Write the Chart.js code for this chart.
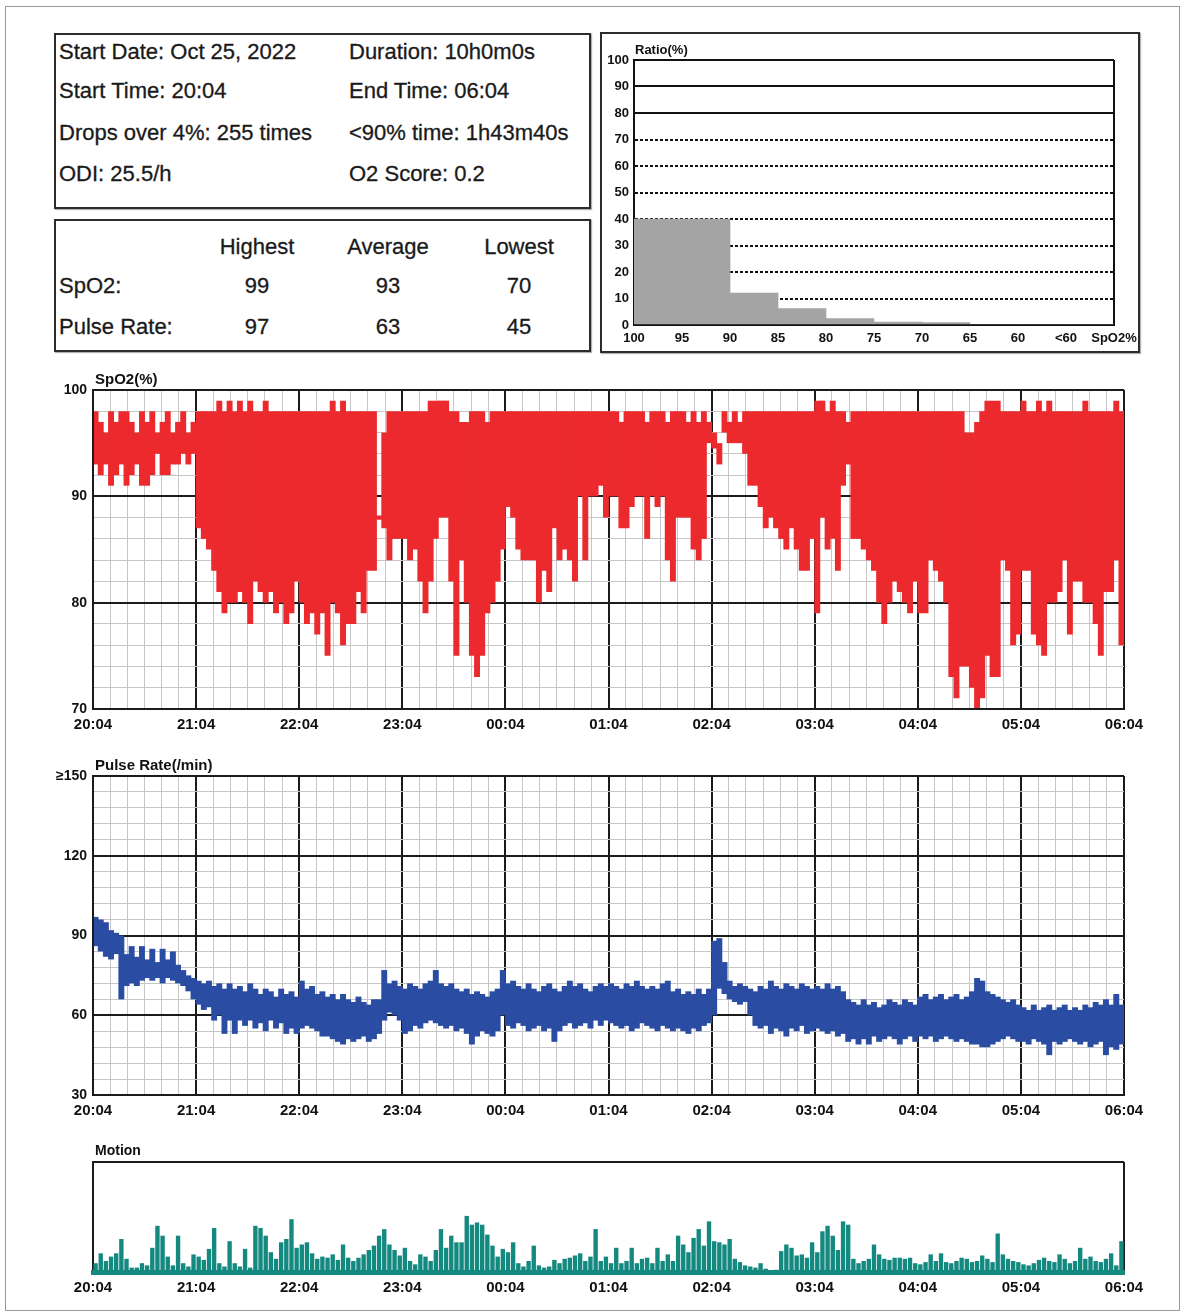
<!DOCTYPE html>
<html>

<head>
    <meta charset="utf-8">
    <title>Relatório de oximetria</title>
    <style>
        body {
            margin: 0;
            background: #fff;
            font-family: "Liberation Sans", Arial, sans-serif;
            color: #1a1a1a;
        }

        .page {
            position: relative;
            width: 1186px;
            height: 1315px;
            overflow: hidden;
        }

        .frame {
            position: absolute;
            left: 5px;
            top: 6px;
            width: 1175px;
            height: 1305px;
            border: 1px solid #9a9a9a;
            box-sizing: border-box;
        }

        .box {
            position: absolute;
            border: 2px solid #2c2c2c;
            box-sizing: border-box;
            box-shadow: 1px 1px 1px rgba(0, 0, 0, .3);
        }

        .t {
            position: absolute;
            font-size: 22px;
            line-height: 22px;
            white-space: nowrap;
            -webkit-text-stroke: 0.3px #1a1a1a;
        }

        .c {
            transform: translateX(-50%);
        }

        canvas {
            position: absolute;
            left: 0;
        }
    </style>
</head>

<body>
    <div class="page">
        <div class="frame"></div>

        <div class="box" style="left:54px;top:33px;width:537px;height:176px"></div>
        <div class="t" style="left:59px;top:41px">Start Date: Oct 25, 2022</div>
        <div class="t" style="left:349px;top:41px">Duration: 10h0m0s</div>
        <div class="t" style="left:59px;top:80px">Start Time: 20:04</div>
        <div class="t" style="left:349px;top:80px">End Time: 06:04</div>
        <div class="t" style="left:59px;top:122px">Drops over 4%: 255 times</div>
        <div class="t" style="left:349px;top:122px">&lt;90% time: 1h43m40s</div>
        <div class="t" style="left:59px;top:163px">ODI: 25.5/h</div>
        <div class="t" style="left:349px;top:163px">O2 Score: 0.2</div>

        <div class="box" style="left:54px;top:219px;width:537px;height:133px"></div>
        <div class="t c" style="left:257px;top:236px">Highest</div>
        <div class="t c" style="left:388px;top:236px">Average</div>
        <div class="t c" style="left:519px;top:236px">Lowest</div>
        <div class="t" style="left:59px;top:275px">SpO2:</div>
        <div class="t c" style="left:257px;top:275px">99</div>
        <div class="t c" style="left:388px;top:275px">93</div>
        <div class="t c" style="left:519px;top:275px">70</div>
        <div class="t" style="left:59px;top:316px">Pulse Rate:</div>
        <div class="t c" style="left:257px;top:316px">97</div>
        <div class="t c" style="left:388px;top:316px">63</div>
        <div class="t c" style="left:519px;top:316px">45</div>

        <div class="box" style="left:600px;top:32px;width:540px;height:321px"></div>

        <canvas id="ratioChart" width="596" height="317" style="left:590px;top:30px"></canvas>
        <canvas id="spo2Chart" width="1186" height="374" style="top:360px"></canvas>
        <canvas id="pulseChart" width="1186" height="374" style="top:746px"></canvas>
        <canvas id="motionChart" width="1186" height="168" style="top:1132px"></canvas>
    </div>

    <script src="https://cdn.jsdelivr.net/npm/chart.js"></script>
    <script>
        // valores, um valor a cada 3 minutos (200 por noite)
        var timeLabels = ['20:04', '21:04', '22:04', '23:04', '00:04', '01:04', '02:04', '03:04', '04:04', '05:04', '06:04'];
        var binMinutes = 3;

        var spo2High = [
            98, 97, 96, 98, 97, 98, 98, 97, 96, 98, 97, 98, 96, 97, 98, 96, 97, 98, 96, 97,
            98, 98, 98, 98, 99, 98, 99, 98, 99, 98, 99, 98, 98, 99, 98, 98, 98, 98, 98, 98,
            98, 98, 98, 98, 98, 98, 99, 98, 99, 98, 98, 98, 98, 98, 98, 88.2, 96, 98, 98, 98,
            98, 98, 98, 98, 98, 99, 99, 99, 99, 98, 98, 97, 97, 98, 98, 98, 97, 98, 98, 98,
            98, 98, 98, 98, 98, 98, 98, 98, 98, 98, 98, 98, 98, 98, 98, 98, 98, 98, 98, 98,
            98, 98, 97, 98, 98, 98, 98, 97, 98, 98, 98, 97, 98, 98, 98, 97, 98, 97, 98, 97,
            96, 95, 98, 97, 98, 97, 98, 98, 98, 98, 98, 98, 98, 98, 98, 98, 98, 98, 98, 98,
            99, 99, 98, 99, 98, 98, 97, 98, 98, 98, 98, 98, 98, 98, 98, 98, 98, 98, 98, 98,
            98, 98, 98, 98, 98, 98, 98, 98, 98, 96, 96, 97, 98, 99, 99, 99, 98, 98, 98, 98,
            99, 98, 98, 99, 98, 99, 98, 98, 98, 98, 98, 98, 99, 98, 98, 98, 98, 98, 99, 98
        ];

        var spo2Low = [
            93, 92, 93, 91, 92, 93, 91, 92, 93, 91, 91, 92, 94, 92, 92, 93, 93, 94, 93, 94,
            87, 86, 85, 83, 81, 79, 80, 80, 81, 80, 78, 82, 81, 80, 81, 79, 80, 78, 79, 82,
            80, 78, 79, 77, 79, 75, 80, 79, 76, 78, 78, 81, 79, 83, 83, 87.8, 87, 84, 86, 86,
            86, 84, 85, 82, 79, 82, 86, 88, 88, 82, 75, 84, 80, 75, 73, 75, 79, 80, 82, 85,
            89, 88, 85, 84, 84, 84, 80, 83, 81, 87, 84, 85, 84, 82, 90, 84, 90, 90, 91, 88,
            90, 90, 87, 87, 89, 90, 90, 86, 90, 89, 90, 84, 82, 88, 88, 88, 85, 84, 86, 95,
            94.5, 93, 96, 95, 95, 95, 94, 91, 91, 89, 87, 88, 87, 86, 85, 87, 85, 83, 83, 86,
            79, 88, 85, 86, 83, 91, 93, 86, 86, 85, 84, 83, 80, 78, 80, 82, 81, 80, 79, 82,
            79, 79, 84, 83, 82, 80, 73, 71, 74, 74, 72, 70, 71, 75, 73, 73, 84, 83, 76, 77,
            83, 83, 77, 76, 75, 80, 80, 81, 84, 77, 82, 82, 80, 80, 78, 75, 81, 81, 84, 76
        ];

        var pulseHigh = [
            97, 96, 95, 92, 91, 90, 83, 86, 82, 86, 81, 85, 80, 85, 81, 84, 79, 77, 75, 74,
            73, 72, 73, 71, 72, 70, 72, 70, 71, 69, 72, 70, 68, 70, 69, 67, 70, 68, 69, 67,
            73, 70, 71, 68, 69, 67, 68, 66, 68, 66, 65, 67, 65, 64, 66, 66, 77, 72, 73, 71,
            70, 72, 71, 70, 72, 73, 77, 72, 71, 72, 70, 69, 70, 68, 69, 68, 67, 69, 70, 77,
            72, 73, 71, 70, 72, 70, 69, 71, 72, 70, 69, 71, 73, 71, 72, 70, 69, 71, 72, 71,
            72, 71, 70, 72, 71, 73, 71, 70, 71, 70, 72, 73, 69, 70, 68, 69, 68, 70, 68, 70,
            88, 89, 80, 73, 71, 72, 71, 70, 69, 71, 70, 73, 71, 70, 72, 71, 70, 72, 71, 70,
            71, 70, 72, 70, 71, 69, 66, 65, 64, 66, 64, 65, 63, 64, 66, 65, 64, 66, 65, 64,
            67, 68, 66, 67, 68, 66, 67, 68, 66, 67, 69, 74, 73, 69, 68, 67, 66, 65, 66, 64,
            63, 62, 64, 62, 63, 64, 62, 63, 64, 62, 63, 62, 64, 63, 65, 64, 66, 64, 68, 64
        ];

        var pulseLow = [
            86, 84, 82, 81, 83, 66, 71, 72, 71, 73, 74, 73, 74, 72, 74, 73, 72, 71, 69, 66,
            64, 62, 63, 58, 60, 53, 58, 53, 58, 56, 58, 55, 57, 54, 58, 55, 57, 53, 55, 53,
            55, 56, 55, 54, 52, 52, 51, 50, 49, 51, 50, 51, 52, 50, 51, 53, 58, 61, 60, 58,
            53, 54, 56, 55, 57, 58, 57, 56, 55, 56, 54, 55, 53, 49, 52, 54, 53, 52, 54, 60,
            56, 55, 57, 56, 54, 55, 56, 54, 55, 50, 54, 56, 57, 55, 56, 57, 55, 58, 56, 58,
            57, 56, 55, 56, 54, 55, 57, 56, 55, 54, 56, 55, 54, 55, 54, 53, 55, 54, 56, 57,
            60, 70, 68, 66, 65, 64, 65, 60, 56, 55, 56, 53, 55, 54, 52, 55, 54, 56, 53, 54,
            55, 54, 53, 54, 52, 53, 50, 51, 49, 51, 49, 52, 50, 51, 52, 51, 49, 51, 52, 50,
            52, 51, 52, 50, 51, 52, 51, 50, 51, 50, 49, 49, 48, 48, 49, 50, 51, 52, 51, 50,
            50, 49, 51, 50, 49, 45, 50, 49, 50, 51, 50, 49, 50, 48, 49, 50, 45, 48, 47, 49
        ];

        // altura do movimento em % da área do gráfico
        var motion = [
            8, 17, 10, 14, 17, 30, 12, 4, 4, 8, 6, 22, 42, 33, 14, 6, 33, 8, 5, 16,
            14, 11, 21, 40, 8, 5, 28, 8, 5, 21, 4, 42, 40, 33, 18, 12, 27, 30, 48, 22,
            25, 27, 17, 12, 14, 13, 16, 11, 25, 13, 10, 13, 16, 20, 24, 33, 39, 25, 20, 15,
            22, 10, 7, 16, 14, 10, 20, 39, 22, 33, 27, 27, 51, 43, 45, 43, 34, 24, 14, 21,
            18, 27, 8, 5, 10, 24, 6, 4, 5, 11, 8, 12, 13, 15, 17, 10, 14, 39, 10, 14,
            8, 22, 8, 10, 22, 8, 12, 13, 8, 22, 10, 16, 10, 33, 25, 18, 31, 39, 24, 46,
            28, 27, 25, 30, 12, 9, 6, 5, 4, 8, 3, 1, 2, 19, 25, 22, 15, 16, 13, 27,
            18, 37, 42, 33, 20, 46, 43, 12, 8, 10, 12, 25, 16, 12, 11, 13, 13, 12, 13, 8,
            7, 9, 16, 10, 17, 9, 8, 10, 13, 12, 9, 10, 15, 12, 9, 35, 16, 12, 10, 9,
            7, 6, 8, 11, 13, 10, 9, 16, 12, 8, 10, 22, 12, 14, 10, 9, 12, 17, 6, 28
        ];

        var ratioLabels = ['100', '95', '90', '85', '80', '75', '70', '65', '60', '<60', 'SpO2%'];
        var ratioValues = [40, 40, 12, 6.2, 2.4, 1.1, 0.9, 0, 0, 0];

        Chart.defaults.font.family = '"Liberation Sans", Arial, sans-serif';
        Chart.defaults.font.weight = 'bold';
        Chart.defaults.color = '#111';

        var clear = 'rgba(0,0,0,0)';

        // título pequeno no canto superior esquerdo da área do gráfico
        var cornerTitle = {
            id: 'cornerTitle',
            afterDraw: function (chart, args, opts) {
                if (!opts.text) return;
                var ctx = chart.ctx;
                ctx.save();
                ctx.font = opts.font;
                ctx.fillStyle = '#111';
                ctx.textBaseline = 'alphabetic';
                ctx.fillText(opts.text, chart.chartArea.left + opts.dx, chart.chartArea.top - opts.dy);
                ctx.restore();
            }
        };

        function toBars(low, high) {
            return low.map(function (v, i) {
                return { x: i * binMinutes + binMinutes / 2, y: high ? [v, high[i]] : v };
            });
        }

        function isMajor(c, step) {
            return c.tick && c.tick.value % step === 0;
        }

        function timeAxis(height, gridColor, gridWidth, borderColor, borderWidth) {
            return {
                type: 'linear',
                min: 0,
                max: 600,
                offset: false,
                afterFit: function (s) { s.height = height; },
                ticks: {
                    stepSize: 10,
                    autoSkip: false,
                    maxRotation: 0,
                    padding: 7,
                    font: { size: 15, weight: 'bold' },
                    callback: function (v) { return v % 60 === 0 ? timeLabels[v / 60] : ''; }
                },
                grid: { offset: false, drawTicks: false, color: gridColor, lineWidth: gridWidth },
                border: { color: borderColor, width: borderWidth, z: 1 }
            };
        }

        function gridChart(id, data, color, title, yMin, yMax, yStep, major, yLabel) {
            return new Chart(document.getElementById(id), {
                type: 'bar',
                data: {
                    datasets: [{
                        data: data,
                        backgroundColor: color,
                        borderWidth: 0,
                        barPercentage: 1.15,
                        categoryPercentage: 1
                    }]
                },
                options: {
                    responsive: false,
                    animation: false,
                    layout: { padding: { top: 30, right: 62, left: 0, bottom: 0 } },
                    plugins: {
                        legend: { display: false },
                        tooltip: { enabled: false },
                        cornerTitle: { text: title, font: 'bold 15px "Liberation Sans"', dx: 2, dy: 6 }
                    },
                    scales: {
                        x: timeAxis(25,
                            function (c) { return isMajor(c, 60) ? '#1b1b1b' : '#c6c6c6'; },
                            function (c) { return isMajor(c, 60) ? 2 : 1; },
                            '#1b1b1b', 2),
                        y: {
                            min: yMin,
                            max: yMax,
                            afterFit: function (s) { s.width = 93; },
                            ticks: {
                                stepSize: yStep,
                                autoSkip: false,
                                padding: 6,
                                font: { size: 14, weight: 'bold' },
                                callback: yLabel
                            },
                            grid: {
                                drawTicks: false,
                                color: function (c) { return isMajor(c, major) ? '#1b1b1b' : '#c6c6c6'; },
                                lineWidth: function (c) { return isMajor(c, major) ? 2 : 1; }
                            },
                            border: { color: '#1b1b1b', width: 2, z: 1 }
                        }
                    }
                },
                plugins: [cornerTitle]
            });
        }

        gridChart('spo2Chart', toBars(spo2Low, spo2High), '#ec2a2e', 'SpO2(%)', 70, 100, 2, 10,
            function (v) { return v % 10 === 0 ? v : ''; });

        gridChart('pulseChart', toBars(pulseLow, pulseHigh), '#2a4da3', 'Pulse Rate(/min)', 30, 150, 6, 30,
            function (v) { return v === 150 ? '≥150' : (v % 30 === 0 ? v : ''); });

        new Chart(document.getElementById('motionChart'), {
            type: 'bar',
            data: {
                datasets: [{
                    data: toBars(motion),
                    backgroundColor: '#14897f',
                    borderWidth: 0,
                    barPercentage: 0.85,
                    categoryPercentage: 1
                }]
            },
            options: {
                responsive: false,
                animation: false,
                layout: { padding: { top: 30, right: 62, left: 0, bottom: 0 } },
                plugins: {
                    legend: { display: false },
                    tooltip: { enabled: false },
                    cornerTitle: { text: 'Motion', font: 'bold 14px "Liberation Sans"', dx: 2, dy: 7 }
                },
                scales: {
                    x: timeAxis(28,
                        function (c) { return c.tick && c.tick.value === 600 ? '#1b1b1b' : clear; },
                        2, '#14897f', 5),
                    y: {
                        min: 0,
                        max: 100,
                        afterFit: function (s) { s.width = 93; },
                        ticks: { display: false, stepSize: 100 },
                        grid: {
                            drawTicks: false,
                            lineWidth: 2,
                            color: function (c) { return c.tick && c.tick.value === 100 ? '#1b1b1b' : clear; }
                        },
                        border: { color: '#1b1b1b', width: 2 }
                    }
                }
            },
            plugins: [cornerTitle]
        });

        new Chart(document.getElementById('ratioChart'), {
            type: 'bar',
            data: {
                datasets: [{
                    data: ratioValues.map(function (v, i) { return { x: i + 0.5, y: v }; }),
                    backgroundColor: '#a4a4a4',
                    borderWidth: 0,
                    barPercentage: 1,
                    categoryPercentage: 1
                }]
            },
            options: {
                responsive: false,
                animation: false,
                layout: { padding: { top: 30, right: 72, left: 0, bottom: 0 } },
                plugins: {
                    legend: { display: false },
                    tooltip: { enabled: false },
                    cornerTitle: { text: 'Ratio(%)', font: 'bold 13px "Liberation Sans"', dx: 1, dy: 6 }
                },
                scales: {
                    x: {
                        type: 'linear',
                        min: 0,
                        max: 10,
                        offset: false,
                        afterFit: function (s) { s.height = 22; },
                        ticks: {
                            stepSize: 1,
                            autoSkip: false,
                            maxRotation: 0,
                            padding: 6,
                            font: { size: 13, weight: 'bold' },
                            callback: function (v) { return ratioLabels[v]; }
                        },
                        grid: {
                            offset: false,
                            drawTicks: false,
                            lineWidth: 2,
                            color: function (c) { return c.tick && c.tick.value === 10 ? '#111' : clear; }
                        },
                        border: { color: '#111', width: 2 }
                    },
                    y: {
                        min: 0,
                        max: 100,
                        afterFit: function (s) { s.width = 44; },
                        ticks: { stepSize: 10, autoSkip: false, padding: 5, font: { size: 13, weight: 'bold' } },
                        grid: {
                            drawTicks: false,
                            lineWidth: 2,
                            color: function (c) { return c.tick && c.tick.value > 0 && c.tick.value <= 70 ? '#111' : clear; }
                        },
                        border: { color: '#111', width: 2, dash: [3, 2] }
                    },
                    y2: {
                        position: 'left',
                        min: 0,
                        max: 100,
                        afterFit: function (s) { s.width = 0; },
                        ticks: { display: false, stepSize: 10 },
                        grid: {
                            drawTicks: false,
                            lineWidth: 2,
                            color: function (c) { return c.tick && c.tick.value >= 80 ? '#111' : clear; }
                        },
                        border: { display: false }
                    }
                }
            },
            plugins: [cornerTitle]
        });
    </script>
</body>

</html>
